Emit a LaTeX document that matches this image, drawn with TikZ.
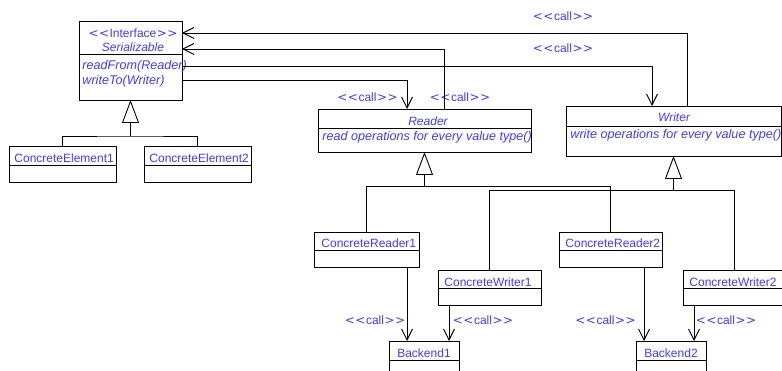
\documentclass[tikz,border=0pt]{standalone}
\usepackage{fontspec}
\setmainfont{Liberation Sans}
\newfontfamily\angfont{DejaVu Sans}
\usetikzlibrary{arrows.meta}
\definecolor{umlblue}{RGB}{60,60,255}
\newcommand{\stereo}[1]{{\angfont<\kern0.5pt<}\kern0.5pt#1\kern0.5pt{\angfont>\kern0.5pt>}}
\begin{document}
\begin{tikzpicture}[x=1pt,y=-1pt,line width=0.9pt,
  cls/.style={draw,inner sep=0pt,outer sep=0pt,anchor=north west},
  txt/.style={text=umlblue,inner sep=0pt,font=\fontsize{12}{14}\selectfont},
  itx/.style={text=umlblue,inner sep=0pt,font=\fontsize{12}{14}\selectfont\itshape},
  itl/.style={text=umlblue,inner sep=0pt,font=\fontsize{12.6}{14}\selectfont\itshape},
  dep/.style={-{Straight Barb[length=11pt,width=11pt]}},
  inh/.style={-{Triangle[open,length=23pt,width=17pt]}}]
\useasboundingbox (0,0) rectangle (782,371);
% boxes
\node[cls,minimum width=103pt,minimum height=79pt] (ser) at (79,21) {};
\node[cls,minimum width=107pt,minimum height=36pt] (ce1) at (9,146) {};
\node[cls,minimum width=107pt,minimum height=36pt] (ce2) at (144,146) {};
\node[cls,minimum width=213pt,minimum height=43pt] (reader) at (318,109) {};
\node[cls,minimum width=215pt,minimum height=50pt] (writer) at (566,106) {};
\node[cls,minimum width=105pt,minimum height=35pt] (cr1) at (314,232) {};
\node[cls,minimum width=103pt,minimum height=35pt] (cr2) at (559,232) {};
\node[cls,minimum width=103pt,minimum height=35pt] (cw1) at (438,270) {};
\node[cls,minimum width=103pt,minimum height=35pt] (cw2) at (683,270) {};
\node[cls,minimum width=70pt,minimum height=40pt] (b1) at (389,341) {};
\node[cls,minimum width=70pt,minimum height=40pt] (b2) at (636,341) {};
% dividers
\draw (ser.west |- 0,54) -- (ser.east |- 0,54);
\draw (ce1.west |- 0,165) -- (ce1.east |- 0,165);
\draw (ce2.west |- 0,165) -- (ce2.east |- 0,165);
\draw (reader.west |- 0,128) -- (reader.east |- 0,128);
\draw (writer.west |- 0,126) -- (writer.east |- 0,126);
\draw (cr1.west |- 0,250) -- (cr1.east |- 0,250);
\draw (cr2.west |- 0,250) -- (cr2.east |- 0,250);
\draw (cw1.west |- 0,288) -- (cw1.east |- 0,288);
\draw (cw2.west |- 0,288) -- (cw2.east |- 0,288);
\draw (b1.west |- 0,360) -- (b1.east |- 0,360);
\draw (b2.west |- 0,360) -- (b2.east |- 0,360);
% texts
\node[txt,anchor=base] (t-int) at (133,38) {\stereo{Interface}};
\node[itx,anchor=base] (t-ser) at (133,52) {Serializable};
\node[itl,anchor=base west] (t-rf) at (82,70) {readFrom(Reader)};
\node[itl,anchor=base west] (t-wt) at (82,85) {writeTo(Writer)};
\node[txt,anchor=base west] (t-ce1) at (14,163) {ConcreteElement1};
\node[txt,anchor=base west] (t-ce2) at (149,163) {ConcreteElement2};
\node[itx,anchor=base] (t-rd) at (428,126) {Reader};
\node[itl,anchor=base west] (t-rdo) at (322,141) {read operations for every value type()};
\node[itx,anchor=base] (t-wr) at (674,122) {Writer};
\node[itl,anchor=base west] (t-wro) at (570,139) {write operations for every value type()};
\node[txt,anchor=base west] (t-cr1) at (321,248) {ConcreteReader1};
\node[txt,anchor=base west] (t-cr2) at (565,248) {ConcreteReader2};
\node[txt,anchor=base west] (t-cw1) at (444,287) {ConcreteWriter1};
\node[txt,anchor=base west] (t-cw2) at (689,287) {ConcreteWriter2};
\node[txt,anchor=base] (t-b1) at (424,357) {Backend1};
\node[txt,anchor=base] (t-b2) at (671,357) {Backend2};
% call labels
\node[txt,anchor=base] (c1) at (563,21) {\stereo{call}};
\node[txt,anchor=base] (c2) at (563,53) {\stereo{call}};
\node[txt,anchor=base] (c3) at (367.5,102) {\stereo{call}};
\node[txt,anchor=base] (c4) at (460,102) {\stereo{call}};
\node[txt,anchor=base] (c5) at (375,325) {\stereo{call}};
\node[txt,anchor=base] (c6) at (483,325) {\stereo{call}};
\node[txt,anchor=base] (c7) at (605.5,325) {\stereo{call}};
\node[txt,anchor=base] (c8) at (726,325) {\stereo{call}};
% dependencies
\draw[dep] (writer.north -| 687,0) |- (ser.east |- 0,33);
\draw[dep] (reader.north -| 444,0) |- (ser.east |- 0,49);
\draw[dep] (ser.east |- 0,66) -| (writer.north -| 652,0);
\draw[dep] (ser.east |- 0,80) -| (reader.north -| 407,0);
\draw[dep] (cr1.south -| 407,0) -- (b1.north -| 407,0);
\draw[dep] (cw1.south -| 449,0) -- (b1.north -| 449,0);
\draw[dep] (cr2.south -| 644,0) -- (b2.north -| 644,0);
\draw[dep] (cw2.south -| 694,0) -- (b2.north -| 694,0);
% inheritance
\draw (ce1.north) |- (ser.south |- 0,136) -| (ce2.north);
\draw[inh] (ser.south |- 0,136) -- (ser.south);
\draw (cr1.north) -- ++(0,-46) -| (cr2.north);
\draw[inh] (reader.south |- 0,186) -- (reader.south);
\draw (cw1.north) -- ++(0,-80) -| (cw2.north);
\draw[inh] (writer.south |- 0,190) -- (writer.south);
\end{tikzpicture}
\end{document}
